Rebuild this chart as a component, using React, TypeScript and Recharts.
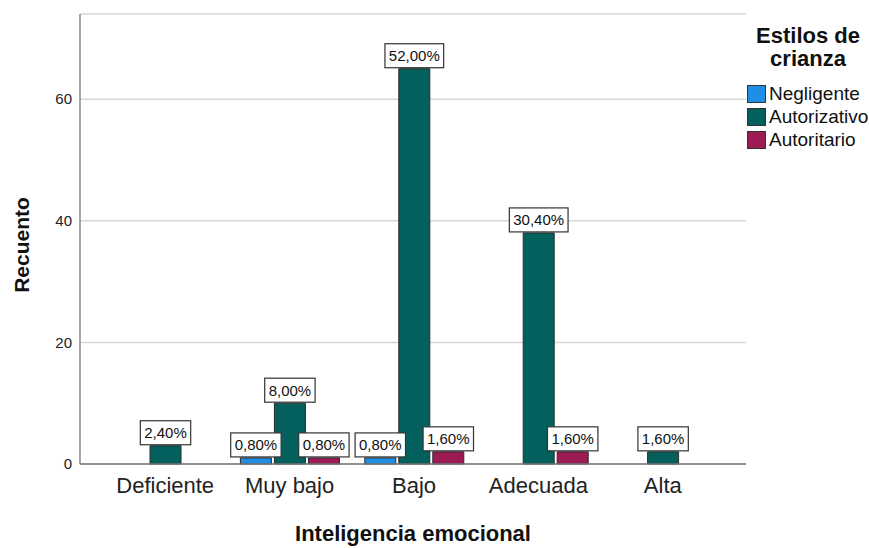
import React from "react";
import {
  BarChart,
  Bar,
  XAxis,
  YAxis,
  CartesianGrid,
  Legend,
  LabelList,
  Label,
} from "recharts";

const categories = ["Deficiente", "Muy bajo", "Bajo", "Adecuada", "Alta"];
const negligente = [0, 1, 1, 0, 0];
const autorizativo = [3, 10, 65, 38, 2];
const autoritario = [0, 1, 2, 2, 0];
const total = 125;
const yTicks = [0, 20, 40, 60];

const series = [
  { key: "negligente", name: "Negligente", color: "#1f8fe6" },
  { key: "autorizativo", name: "Autorizativo", color: "#03605c" },
  { key: "autoritario", name: "Autoritario", color: "#9c1b55" },
];

const data = categories.map((c, i) => ({
  category: c,
  negligente: negligente[i],
  autorizativo: autorizativo[i],
  autoritario: autoritario[i],
}));

const FONT = "'Liberation Sans', Arial, sans-serif";

const pct = (v: number) => ((v / total) * 100).toFixed(2).replace(".", ",") + "%";

// rough width of the label text at 15px
const textWidth = (s: string) =>
  s.split("").reduce((w, ch) => w + (ch === "," ? 4.2 : ch === "%" ? 13.3 : 8.3), 0);

const BoxLabel = (props: any) => {
  const { x, y, width, value } = props;
  if (!value) return null;
  const text = pct(value);
  const w = textWidth(text) + 8;
  const h = 24;
  const cx = x + width / 2;
  const bottom = y - 1;
  return (
    <g>
      <rect x={cx - w / 2} y={bottom - h} width={w} height={h} fill="#fff" stroke="#333" strokeWidth={1.2} />
      <text x={cx} y={bottom - h / 2 + 5.5} textAnchor="middle" fontSize={15} fontFamily={FONT} fill="#111">
        {text}
      </text>
    </g>
  );
};

const LegendBox = () => (
  <div style={{ fontFamily: FONT, color: "#111" }}>
    <div style={{ fontWeight: "bold", fontSize: 22, lineHeight: "23px", textAlign: "center", marginBottom: 12 }}>
      Estilos de
      <br />
      crianza
    </div>
    {series.map((s) => (
      <div key={s.key} style={{ display: "flex", alignItems: "center", height: 23 }}>
        <span
          style={{
            display: "inline-block",
            width: 17,
            height: 16,
            background: s.color,
            border: "1px solid #333",
            marginRight: 3,
          }}
        />
        <span style={{ fontSize: 19 }}>{s.name}</span>
      </div>
    ))}
  </div>
);

export default function App() {
  return (
    <div style={{ position: "absolute", left: 0, top: 0, width: 869, height: 548, background: "#fff" }}>
      <BarChart
        width={869}
        height={548}
        data={data}
        margin={{ top: 14, right: 123, bottom: 0, left: 0 }}
        barSize={31}
        barGap={3}
      >
        <CartesianGrid horizontal vertical={false} stroke="#d6d6d6" strokeWidth={1.5} />
        <XAxis
          dataKey="category"
          height={84}
          tickLine={false}
          tickMargin={7}
          padding={{ left: 23, right: 21 }}
          axisLine={{ stroke: "#777", strokeWidth: 1.3 }}
          tick={{ fontSize: 22, fontFamily: FONT, fill: "#222" }}
        >
          <Label
            content={() => (
              <text x={413} y={541} textAnchor="middle" fontSize={22} fontWeight="bold" fontFamily={FONT} fill="#111">
                Inteligencia emocional
              </text>
            )}
          />
        </XAxis>
        <YAxis
          width={80}
          domain={[0, 74]}
          ticks={yTicks}
          tickLine={false}
          axisLine={{ stroke: "#777", strokeWidth: 1.3 }}
          tick={{ fontSize: 15, fontFamily: FONT, fill: "#222" }}
        >
          <Label
            content={() => (
              <text
                x={29}
                y={245}
                transform="rotate(-90 29 245)"
                textAnchor="middle"
                fontSize={21}
                fontWeight="bold"
                fontFamily={FONT}
                fill="#111"
              >
                Recuento
              </text>
            )}
          />
        </YAxis>
        <Legend
          layout="vertical"
          align="center"
          verticalAlign="middle"
          content={() => <LegendBox />}
          wrapperStyle={{ left: 747, top: 24, width: 122, height: 145 }}
        />
        {series.map((s) => (
          <Bar
            key={s.key}
            dataKey={s.key}
            name={s.name}
            fill={s.color}
            stroke="#2a2a2a"
            strokeWidth={1}
            isAnimationActive={false}
          >
            <LabelList dataKey={s.key} content={<BoxLabel />} />
          </Bar>
        ))}
      </BarChart>
    </div>
  );
}
